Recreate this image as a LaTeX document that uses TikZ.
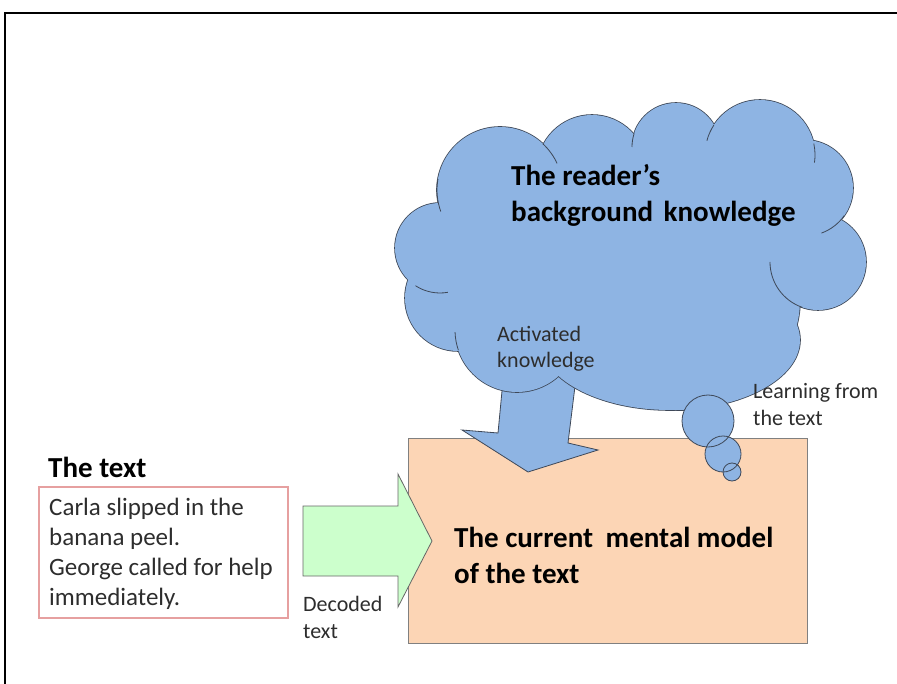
\documentclass[tikz,border=0pt]{standalone}
\usepackage{fontspec}
\setmainfont{Carlito}
\usepackage{tikz}
\definecolor{cloudblue}{RGB}{142,180,227}
\definecolor{cloudedge}{RGB}{62,72,88}
\definecolor{modelfill}{RGB}{252,213,181}
\definecolor{arrowgreen}{RGB}{204,255,204}
\definecolor{boxred}{RGB}{230,160,160}
\definecolor{labelgray}{RGB}{45,45,45}
\def\puffs{440/248/45,458/298/53,517/330/62,500/190/63,592/170/55,676/147/44,760/155/55,805/188/48,818/262/48}
\newcommand{\crease}[4]{\draw[cloudline] (#1) ++(#2:#4) arc[start angle=#2, end angle=#3, radius=#4]}

\begin{document}
\begin{tikzpicture}[x=1pt,y=-1pt,
  headtext/.style={font=\fontsize{29}{36}\selectfont\bfseries, align=left, inner sep=0pt, anchor=base west},
  bodytext/.style={font=\fontsize{25}{30}\selectfont, text=labelgray, align=left, inner sep=0pt, anchor=base west},
  notetext/.style={font=\fontsize{22}{26.5}\selectfont, text=labelgray, align=left, inner sep=0pt, anchor=base west},
  cloudline/.style={draw=cloudedge, line width=0.8pt},
  puffline/.style={draw=cloudedge, line width=1.6pt}]

\useasboundingbox (0,0) rectangle (897,684);
\draw[line width=1.8pt] (5,684) -- (5,13) -- (897,13);

% mental model
\filldraw[fill=modelfill, draw=gray, line width=1pt] (408,438) rectangle (807,643);

% decoded text
\filldraw[fill=arrowgreen, draw=gray!80!black, line width=0.8pt] (303,506) -- (398,506) -- (398,474) -- (432,541) -- (398,607) -- (398,576) -- (303,576) -- cycle;

% activated knowledge
\filldraw[fill=cloudblue, cloudline] (504,370) -- (498,433) -- (462,430) -- (528,472) -- (598,450) -- (568,443) -- (577,370) -- cycle;

% cloud: outlines first, then fills over them
\foreach \cx/\cy/\r in \puffs
  \draw[puffline] (\cx,\cy) circle (\r);
\draw[puffline] (680,300) ellipse (120 and 110);
\draw[puffline] (670,340) ellipse (130 and 70);
\foreach \cx/\cy/\r in \puffs
  \fill[cloudblue] (\cx,\cy) circle (\r);
\fill[cloudblue] (680,300) ellipse (120 and 110);
\fill[cloudblue] (670,340) ellipse (130 and 70);
\fill[cloudblue] (630,255) ellipse (160 and 100);

\crease{500,190}{160}{190}{63};
\crease{500,190}{-47}{-25}{63};
\crease{440,248}{123}{80}{45};
\crease{517,330}{161}{178}{62};
\crease{818,262}{109}{180}{48};
\crease{805,188}{35}{70}{48};
\crease{676,147}{198}{180}{44};
\crease{760,155}{213}{195}{55};
\crease{760,155}{-12}{8}{55};

% thought bubbles
\foreach \cx/\cy/\r in {708/421/26,723/454/18,732/472/9}
  \fill[cloudblue] (\cx,\cy) circle (\r);
\foreach \cx/\cy/\r in {708/421/26,723/454/18,732/472/9}
  \draw[cloudline] (\cx,\cy) circle (\r);

% the text
\draw[boxred, line width=1.2pt] (39,487) rectangle (288,618);

% base anchor = last line
\node[headtext] (reader) at (511,222) {The reader’s\\background\hspace{4pt} knowledge};
\node[notetext] (activated) at (497,368) {Activated\\knowledge};
\node[notetext] (learning) at (753,425) {Learning from\\the text};
\node[headtext] (model) at (454,583) {The current\hspace{6pt} mental model\\of the text};
\node[notetext] (decoded) at (303,638) {Decoded\\text};
\node[headtext] (texthead) at (48,477) {The text};
\node[bodytext] (story) at (49,605) {Carla slipped in the\\banana peel.\\George called for help\\immediately.};
\end{tikzpicture}
\end{document}
